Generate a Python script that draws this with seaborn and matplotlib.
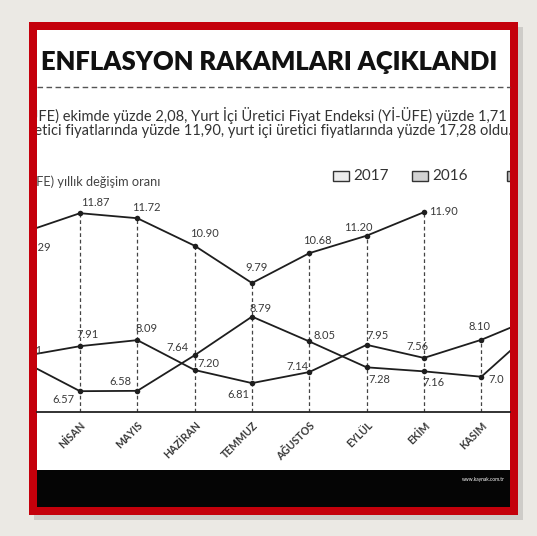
import matplotlib
matplotlib.use("Agg")
import matplotlib.pyplot as plt
import seaborn as sns
import pandas as pd
from matplotlib.patches import Rectangle
from matplotlib.transforms import ScaledTranslation

# ---------------- data ----------------
months = ["OCAK", "ŞUBAT", "MART", "NİSAN", "MAYIS", "HAZİRAN",
          "TEMMUZ", "AĞUSTOS", "EYLÜL", "EKİM", "KASIM", "ARALIK"]
cpi_2017 = [9.22, 10.13, 11.29, 11.87, 11.72, 10.90, 9.79, 10.68, 11.20, 11.90]
cpi_2016 = [9.58, 8.78, 7.46, 6.57, 6.58, 7.64, 8.79, 8.05, 7.28, 7.16, 7.00, 8.53]
cpi_2015 = [7.24, 7.55, 7.61, 7.91, 8.09, 7.20, 6.81, 7.14, 7.95, 7.56, 8.10, 8.81]
years = ["2017", "2016", "2015"]

title = "ENFLASYON RAKAMLARI AÇIKLANDI"
line1 = "Tüketici Fiyat Endeksi (TÜFE) ekimde yüzde 2,08, Yurt İçi Üretici Fiyat Endeksi (Yİ-ÜFE) yüzde 1,71"
line2 = "Yıllık bazda ise tüketici fiyatlarında yüzde 11,90, yurt içi üretici fiyatlarında yüzde 17,28 oldu."
subtitle = "(TÜFE) yıllık değişim oranı"
source = "www.kaynak.com.tr"

# label offsets (pixels) per point
off_2017 = [(0, 10), (0, 10), (14, -15), (15, 11), (9, 11), (10, 12), (5, 16), (8, 13), (-8, 8), (19, 1)]
off_2016 = [(0, 10), (0, 10), (-16, -8), (-17, -8), (-17, 9), (-17, 8), (9, 8), (15, 6), (13, -12), (9, -11), (15, -3), (0, 10)]
off_2015 = [(0, 10), (0, 10), (9, 6), (8, 12), (9, 12), (14, 7), (-14, -11), (-12, 6), (11, 9), (-7, 11), (-2, 13), (0, 10)]

# ---------------- style ----------------
sns.set_style("white")
plt.rcParams["font.family"] = ["Lato", "DejaVu Sans"]

W, H = 537, 536
fig = plt.figure(figsize=(W / 100, H / 100), dpi=100)
fig.patch.set_facecolor("#ebe9e4")

ax0 = fig.add_axes([0, 0, 1, 1])
ax0.set_xlim(0, W)
ax0.set_ylim(H, 0)
ax0.axis("off")

# frame
L_out, R_out, T_out, B_out = 29, 518, 22, 515
L_in, R_in, T_in, B_in = 37, 510, 30, 507
ax0.add_patch(Rectangle((L_out + 5, T_out + 5), R_out - L_out, B_out - T_out,
                        facecolor="#9a9894", alpha=0.35, lw=0, zorder=0))
ax0.add_patch(Rectangle((L_out, T_out), R_out - L_out, B_out - T_out,
                        facecolor="#c4000b", lw=0, zorder=1))
panel = Rectangle((L_in, T_in), R_in - L_in, B_in - T_in, facecolor="white", lw=0, zorder=2)
ax0.add_patch(panel)
ax0.add_patch(Rectangle((L_in, 470), R_in - L_in, B_in - 470, facecolor="#050505", lw=0, zorder=3))


def clip(a):
    a.set_clip_path(panel)
    a.set_clip_on(True)
    return a


# title fitted to width
t = ax0.text(41, 62, title, fontsize=21, fontweight="heavy", color="#111",
             ha="left", va="center", zorder=5)
fig.canvas.draw()
bb = t.get_window_extent()
t.set_fontsize(21 * 456 / bb.width)

ax0.plot([L_in, R_in], [87, 87], ls=(0, (4, 2.5)), color="#555", lw=1.0, zorder=5)

clip(ax0.text(507, 115, line1, fontsize=10.5, color="#333", ha="right", va="center", zorder=5))
clip(ax0.text(512, 131, line2, fontsize=10.5, color="#333", ha="right", va="center", zorder=5))

# legend boxes
leg_x = [333, 412, 507]
leg_face = ["#ececec", "#d2d2d2", "#bdbdbd"]
for x, yr, fc in zip(leg_x, years, leg_face):
    clip(ax0.add_patch(Rectangle((x, 171), 16, 10, facecolor=fc, edgecolor="#333", lw=1.0, zorder=5)))
    clip(ax0.text(x + 20, 176, yr, fontsize=11, color="#333", ha="left", va="center", zorder=5))

clip(ax0.text(160, 181, subtitle, fontsize=9.2, color="#444", ha="right", va="center", zorder=5))
ax0.text(505, 480, source, fontsize=3.5, color="white", ha="right", va="center", zorder=6)

# ---------------- chart ----------------
c_left, c_right, c_top, c_bot = L_in, R_in, 188, 412
ax = fig.add_axes([c_left / W, (H - c_bot) / H, (c_right - c_left) / W, (c_bot - c_top) / H])
ax.set_facecolor("none")

rows = []
for yr, vals in zip(years, [cpi_2017, cpi_2016, cpi_2015]):
    for i, v in enumerate(vals):
        rows.append({"ay": i, "oran": v, "yil": yr})
df = pd.DataFrame(rows)

ymin, ymax = 5.95, 12.62
# dashed drop lines from highest value at each month
tops = df.groupby("ay")["oran"].max()
ax.vlines(tops.index, ymin, tops.values, colors="#444", lw=0.9,
          linestyles=(0, (3, 2.2)), zorder=1)

sns.lineplot(data=df, x="ay", y="oran", hue="yil", units="yil", estimator=None,
             palette={y: "#1e1e1e" for y in years}, marker="o", markersize=4,
             markeredgewidth=0, linewidth=1.3, legend=False, sort=False, ax=ax, zorder=3)

for vals, offs in zip([cpi_2017, cpi_2016, cpi_2015], [off_2017, off_2016, off_2015]):
    for i, (v, o) in enumerate(zip(vals, offs)):
        lab = "7.0" if v == 7.0 else f"{v:.2f}"
        a = ax.annotate(lab, (i, v), xytext=o, textcoords="offset pixels",
                        ha="center", va="center", fontsize=8, fontweight="normal",
                        color="#3a3a3a", zorder=4, annotation_clip=False)
        clip(a)

ax.set_xticks(range(len(months)))
ax.set_xticklabels(months, rotation=45, ha="right", va="top", rotation_mode="anchor",
                   fontsize=7.6, fontweight="bold", color="#3a3a3a")
for lbl in ax.get_xticklabels():
    lbl.set_transform(lbl.get_transform() + ScaledTranslation(0.09, 0, fig.dpi_scale_trans))
ax.set_xlim(2.25, 10.5)
ax.set_ylim(ymin, ymax)
ax.tick_params(axis="x", length=0, pad=5.5)
ax.set_yticks([])
ax.set_xlabel("")
ax.set_ylabel("")
for s in ["left", "right", "top"]:
    ax.spines[s].set_visible(False)
ax.spines["bottom"].set_color("#222")
ax.spines["bottom"].set_linewidth(1.3)

fig.savefig("out.png", dpi=100, facecolor=fig.get_facecolor())
